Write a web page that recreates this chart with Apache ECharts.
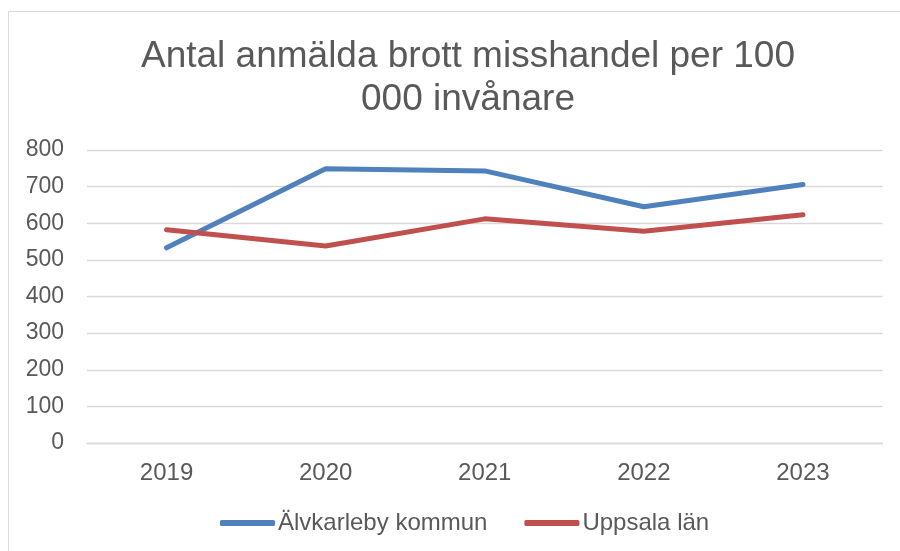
<!DOCTYPE html>
<html>
<head>
<meta charset="utf-8">
<script src="https://cdn.jsdelivr.net/npm/echarts@6/dist/echarts.min.js"></script>
<style>
    html, body { margin: 0; padding: 0; background: #fff; }
    #chart { width: 900px; height: 551px; }
</style>
</head>
<body>
<div id="chart"></div>
<script>
    // årtal och värden (per 100 000 invånare)
    const years = ['2019', '2020', '2021', '2022', '2023'];
    const alvkarleby = [533, 749, 743, 645, 706];
    const uppsala = [582, 538, 612, 578, 623];
    const yTicks = [0, 100, 200, 300, 400, 500, 600, 700, 800];

    const font = 'Liberation Sans, Arial, sans-serif';
    const grey = '#595959';

    const chart = echarts.init(document.getElementById('chart'));
    const option = {
        animation: false,
        color: ['#4F81BD', '#C0504D'],
        graphic: [{
            type: 'rect',
            shape: { x: 8.5, y: 11.5, width: 900, height: 600 },
            style: { fill: 'none', stroke: '#d9d9d9', lineWidth: 1 }
        }],
        title: {
            text: 'Antal anmälda brott misshandel per 100\n000 invånare',
            left: 463,
            top: 30,
            textAlign: 'center',
            textStyle: {
                fontFamily: font,
                fontSize: 37,
                fontWeight: 'normal',
                lineHeight: 43,
                color: grey
            }
        },
        grid: {
            left: 87,
            right: 17.5,
            top: 150,
            bottom: 108
        },
        xAxis: {
            type: 'category',
            data: years,
            axisLine: { lineStyle: { color: '#d9d9d9', width: 1.3 } },
            axisTick: { show: false },
            axisLabel: {
                margin: 18,
                fontFamily: font,
                fontSize: 24,
                color: grey
            }
        },
        yAxis: {
            type: 'value',
            min: yTicks[0],
            max: yTicks[yTicks.length - 1],
            interval: 100,
            axisLine: { show: false },
            axisTick: { show: false },
            splitLine: { lineStyle: { color: '#d9d9d9', width: 1.3 } },
            axisLabel: {
                margin: 23,
                fontFamily: font,
                fontSize: 23,
                color: grey
            }
        },
        legend: {
            left: 220,
            top: 511,
            padding: 0,
            icon: 'roundRect',
            itemWidth: 55,
            itemHeight: 6,
            itemGap: 37,
            textStyle: {
                fontFamily: font,
                fontSize: 24,
                color: grey,
                padding: [0, 0, 0, -2]
            },
            data: ['Älvkarleby kommun', 'Uppsala län']
        },
        series: [{
            name: 'Älvkarleby kommun',
            type: 'line',
            symbol: 'none',
            lineStyle: { width: 5, cap: 'round', join: 'round' },
            data: alvkarleby
        }, {
            name: 'Uppsala län',
            type: 'line',
            symbol: 'none',
            lineStyle: { width: 5, cap: 'round', join: 'round' },
            data: uppsala
        }]
    };
    chart.setOption(option);
</script>
</body>
</html>
